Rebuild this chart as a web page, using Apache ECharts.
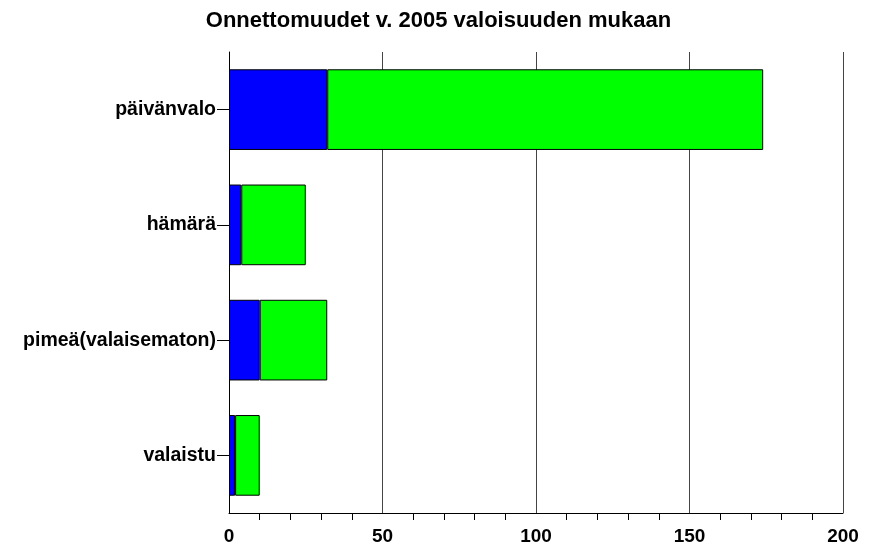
<!DOCTYPE html>
<html>
<head>
<meta charset="utf-8">
<script src="https://cdn.jsdelivr.net/npm/echarts@6/dist/echarts.min.js"></script>
<style>
	html, body { margin: 0; padding: 0; background: #fff; }
	#chart { width: 877px; height: 549px; }
</style>
</head>
<body>
<div id="chart"></div>
<script>
var categories = ["päivänvalo", "hämärä", "pimeä(valaisematon)", "valaistu"];
var blueValues = [32, 4, 10, 2];
var greenValues = [142, 21, 22, 8];
var xTicks = [0, 50, 100, 150, 200];

var font = "Liberation Sans, Arial, sans-serif";

var mychart = echarts.init(document.getElementById("chart"));
var option = {
	animation: false,
	title: {
		text: "Onnettomuudet v. 2005 valoisuuden mukaan",
		left: "center",
		top: 5,
		textStyle: { fontFamily: font, fontSize: 22, fontWeight: "bold", color: "#000" }
	},
	grid: { left: 229, right: 34, top: 52, bottom: 36 },
	xAxis: {
		type: "value",
		min: xTicks[0],
		max: xTicks[xTicks.length - 1],
		interval: 50,
		axisLine: { show: true, lineStyle: { color: "#000", width: 1 } },
		axisTick: { show: false },
		minorTick: { show: true, splitNumber: 5, length: 7, lineStyle: { color: "#000" } },
		splitLine: { show: true, lineStyle: { color: "#444", width: 1 } },
		axisLabel: {
			margin: 14,
			fontFamily: font, fontSize: 19, fontWeight: "bold", color: "#000"
		}
	},
	yAxis: {
		type: "category",
		data: categories,
		inverse: true,
		axisLine: { show: true, lineStyle: { color: "#000", width: 1 } },
		axisTick: { show: true, alignWithLabel: true, length: 12, lineStyle: { color: "#000" } },
		splitLine: { show: false },
		axisLabel: {
			margin: 13,
			fontFamily: font, fontSize: 19.5, fontWeight: "bold", color: "#000"
		}
	},
	series: [
		{
			type: "bar",
			stack: "all",
			data: blueValues,
			barWidth: "70%",
			itemStyle: { color: "#0000ff", borderColor: "#000", borderWidth: 1 }
		},
		{
			type: "bar",
			stack: "all",
			data: greenValues,
			barWidth: "70%",
			itemStyle: { color: "#00ff00", borderColor: "#000", borderWidth: 1 }
		}
	]
};
mychart.setOption(option, true);
</script>
</body>
</html>
